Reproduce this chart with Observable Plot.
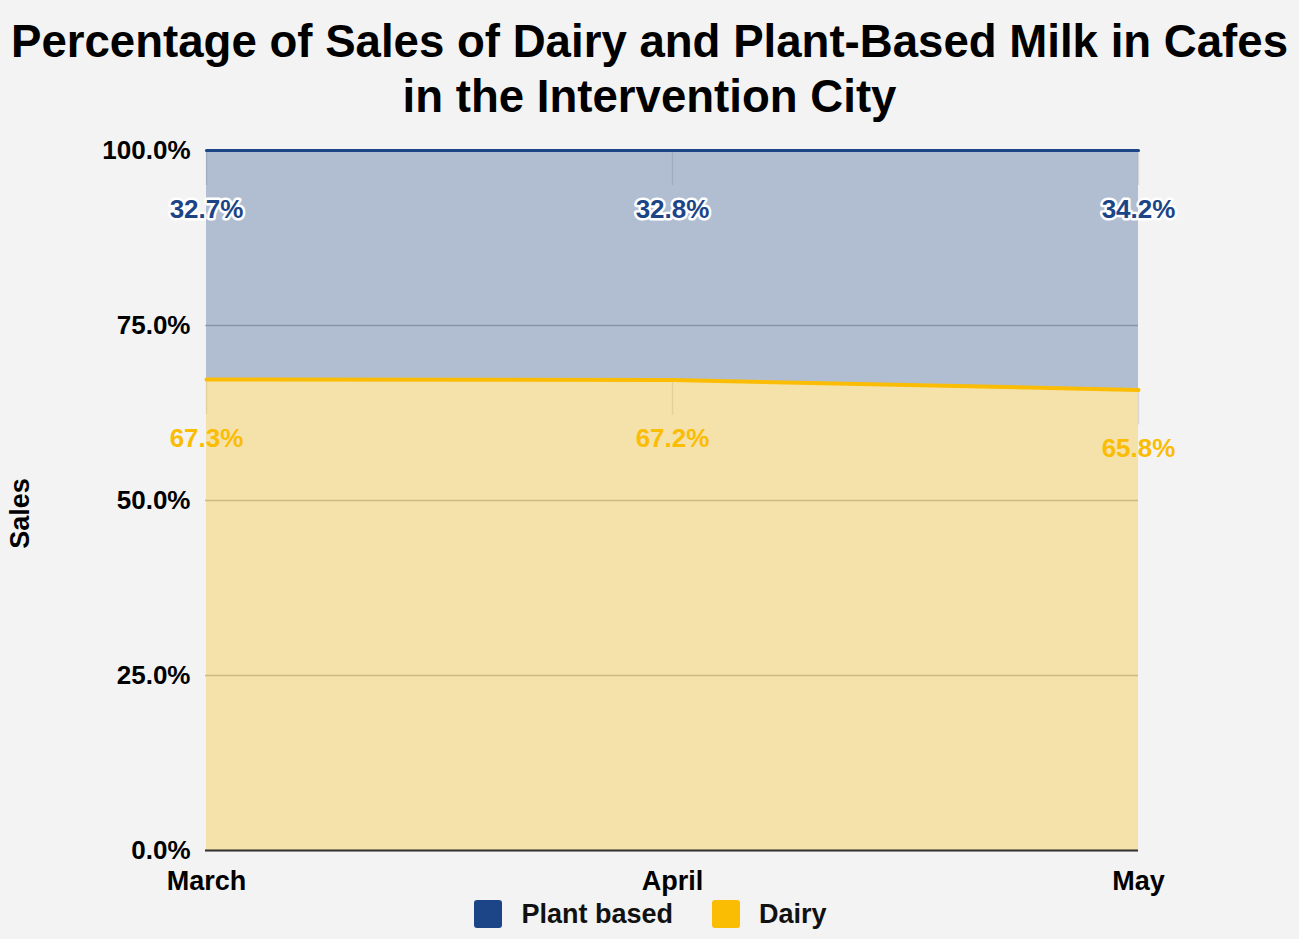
<!DOCTYPE html>
<html>
<head>
<meta charset="utf-8">
<script src="https://cdn.jsdelivr.net/npm/d3@7"></script>
<script src="https://cdn.jsdelivr.net/npm/@observablehq/plot@0.6"></script>
<style>
  html, body { margin: 0; padding: 0; background: #f3f3f3; }
  body { width: 1299px; height: 939px; overflow: hidden; font-family: "Liberation Sans", Arial, sans-serif; }
  #title { box-sizing: border-box; height: 124px; padding-top: 14px; text-align: center; font-weight: bold; font-size: 45.6px; line-height: 55px; color: #000; white-space: nowrap; }
  #chart { height: 776px; }
  #chart svg { display: block; }
  #legend { display: flex; justify-content: center; align-items: center; height: 28px; font-weight: bold; font-size: 27px; color: #111; margin-left: 2px; }
  .item { display: flex; align-items: center; }
  .sw { width: 28px; height: 28px; border-radius: 3px; margin-right: 19px; }
  .item + .item { margin-left: 39px; }
</style>
</head>
<body>
<div id="title">Percentage of Sales of Dairy and Plant-Based Milk in Cafes<br>in the Intervention City</div>
<div id="chart"></div>
<div id="legend"></div>
<script>
const months = ["March", "April", "May"];
const seriesNames = ["Plant based", "Dairy"];
const seriesColors = ["#1c4587", "#fbbc04"];
const plantValues = [32.7, 32.8, 34.2];
const dairyValues = [67.3, 67.2, 65.8];
const yTicks = [0, 25, 50, 75, 100];
const yAxisLabel = "Sales";

// long-format table
const data = months.flatMap((m, i) => [
  {month: m, series: "Dairy", value: dairyValues[i]},
  {month: m, series: "Plant based", value: plantValues[i]}
]);
// stacked tops, derived from the values
const stacked = months.flatMap((m, i) => [
  {month: m, series: "Dairy", value: dairyValues[i], top: dairyValues[i]},
  {month: m, series: "Plant based", value: plantValues[i], top: dairyValues[i] + plantValues[i]}
]);
const plantRows = stacked.filter(d => d.series === "Plant based");
const dairyRows = stacked.filter(d => d.series === "Dairy");

const FONT = "'Liberation Sans', Arial, sans-serif";

const chart = Plot.plot({
  width: 1299,
  height: 776,
  marginLeft: 205,
  marginRight: 161,
  marginTop: 26,
  marginBottom: 50,
  style: {background: "#f3f3f3", fontFamily: FONT, overflow: "visible"},
  x: {type: "point", domain: months, padding: 0, label: null},
  y: {domain: [0, 100], label: null},
  color: {domain: seriesNames, range: seriesColors},
  marks: [
    Plot.gridY(yTicks, {stroke: "#b8b8b8", strokeOpacity: 1, strokeWidth: 1.5}),
    Plot.ruleX(stacked, {x: "month", y1: "top", y2: d => d.top - 5, stroke: "#d8d8d8", strokeWidth: 1.5}),
    Plot.areaY(data, {x: "month", y: "value", z: "series", fill: "series", fillOpacity: 0.3, order: ["Dairy", "Plant based"]}),
    Plot.lineY(plantRows, {x: "month", y: "top", stroke: seriesColors[0], strokeWidth: 3}),
    Plot.lineY(dairyRows, {x: "month", y: "top", stroke: seriesColors[1], strokeWidth: 4}),
    Plot.ruleY([0], {stroke: "#333", strokeWidth: 2}),
    Plot.axisY({ticks: yTicks, tickSize: 0, tickPadding: 15, tickFormat: d => d.toFixed(1) + "%", fontSize: 26, fontWeight: "bold", fill: "#000", stroke: "white", strokeWidth: 2, paintOrder: "stroke", label: null}),
    Plot.axisX({tickSize: 0, tickPadding: 20, fontSize: 27, fontWeight: "bold", fill: "#000", stroke: "white", strokeWidth: 2, paintOrder: "stroke", label: null}),
    Plot.text(plantRows, {x: "month", y: "top", text: d => d.value.toFixed(1) + "%", dy: 59, fill: seriesColors[0], fontSize: 26, fontWeight: "bold", stroke: "white", strokeWidth: 5, paintOrder: "stroke"}),
    Plot.text(dairyRows, {x: "month", y: "top", text: d => d.value.toFixed(1) + "%", dy: 59, fill: seriesColors[1], fontSize: 26, fontWeight: "bold"}),
    Plot.text([yAxisLabel], {frameAnchor: "left", textAnchor: "middle", rotate: -90, dx: -185, dy: 13, fontSize: 27, fontWeight: "bold", fill: "#000"})
  ]
});
document.getElementById("chart").appendChild(chart);

const legend = document.getElementById("legend");
seriesNames.forEach((name, i) => {
  const item = document.createElement("div");
  item.className = "item";
  const sw = document.createElement("div");
  sw.className = "sw";
  sw.style.background = seriesColors[i];
  const label = document.createElement("span");
  label.textContent = name;
  item.appendChild(sw);
  item.appendChild(label);
  legend.appendChild(item);
});
</script>
</body>
</html>
